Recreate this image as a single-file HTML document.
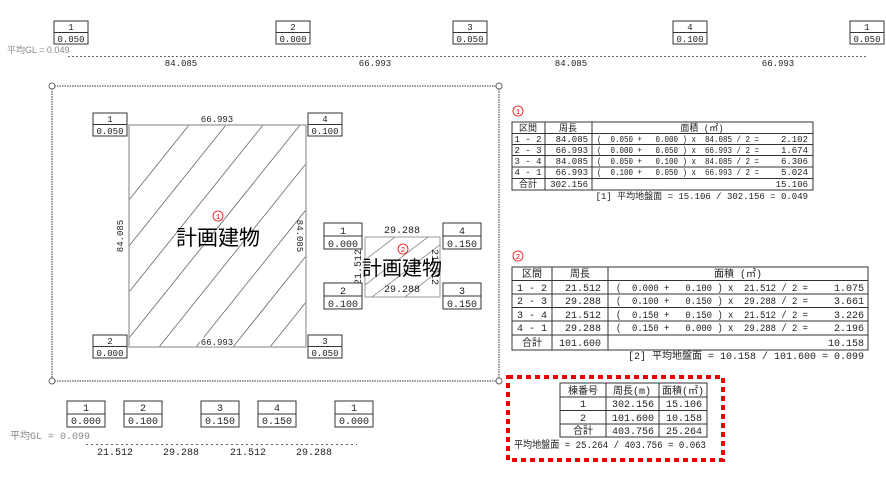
<!DOCTYPE html>
<html><head><meta charset="utf-8"><style>
html,body{margin:0;padding:0;background:#fff;width:886px;height:483px;overflow:hidden}
svg{display:block;font-size:10px;font-family:"Liberation Mono","Noto Sans CJK JP",monospace}
text{fill:#222}
.j{font-family:"Liberation Sans","Noto Sans CJK JP",sans-serif}
text.g{fill:#888}
text.r{fill:#e00}
text.k{fill:#000}
</style></head><body>
<svg width="886" height="483" viewBox="0 0 886 483" xmlns="http://www.w3.org/2000/svg">
<defs>
<clipPath id="c1"><rect x="129" y="125" width="177" height="222"/></clipPath>
<clipPath id="c2"><rect x="365" y="237" width="75" height="60"/></clipPath>
<g id="bx"><rect x="0" y="0" width="34" height="23" fill="#fff" stroke="#333" stroke-width="1"/><line x1="0" y1="11.5" x2="34" y2="11.5" stroke="#333"/></g>
<g id="bxl"><rect x="0" y="0" width="38" height="26" fill="#fff" stroke="#333" stroke-width="1"/><line x1="0" y1="13" x2="38" y2="13" stroke="#333"/></g>
</defs>

<g font-size="9">
<use href="#bx" x="54" y="21"/><text x="71" y="30" text-anchor="middle">1</text><text x="71" y="42" text-anchor="middle">0.050</text>
<use href="#bx" x="276" y="21"/><text x="293" y="30" text-anchor="middle">2</text><text x="293" y="42" text-anchor="middle">0.000</text>
<use href="#bx" x="453" y="21"/><text x="470" y="30" text-anchor="middle">3</text><text x="470" y="42" text-anchor="middle">0.050</text>
<use href="#bx" x="673" y="21"/><text x="690" y="30" text-anchor="middle">4</text><text x="690" y="42" text-anchor="middle">0.100</text>
<use href="#bx" x="850" y="21"/><text x="867" y="30" text-anchor="middle">1</text><text x="867" y="42" text-anchor="middle">0.050</text>
</g>
<text x="7" y="53" class="j g" font-size="9">平均GL = 0.049</text>
<line x1="68" y1="56.5" x2="867" y2="56.5" stroke="#666" stroke-dasharray="2,2"/>
<g font-size="9">
<text x="181" y="66" text-anchor="middle">84.085</text>
<text x="375" y="66" text-anchor="middle">66.993</text>
<text x="571" y="66" text-anchor="middle">84.085</text>
<text x="778" y="66" text-anchor="middle">66.993</text>
</g>

<rect x="52" y="86" width="447" height="295" fill="none" stroke="#333" stroke-dasharray="1.5,1"/>
<circle cx="52" cy="86" r="3" fill="#fff" stroke="#666"/>
<circle cx="499" cy="86" r="3" fill="#fff" stroke="#666"/>
<circle cx="52" cy="381" r="3" fill="#fff" stroke="#666"/>
<circle cx="499" cy="381" r="3" fill="#fff" stroke="#666"/>

<g clip-path="url(#c1)" stroke="#666" stroke-width="0.8">
<path d="M129,200 L189,125 M129,246 L226,125 M129,292 L263,125 M129,338 L300,125 M159,347 L337,125 M196,347 L374,125 M233,347 L411,125 M270,347 L448,125 M307,347 L485,125"/>
</g>
<rect x="129" y="125" width="177" height="222" fill="none" stroke="#aaa" stroke-width="1.5"/>
<text x="217" y="122" text-anchor="middle" font-size="9" style="paint-order:stroke" stroke="#fff" stroke-width="3">66.993</text>
<text x="217" y="345" text-anchor="middle" font-size="9" style="paint-order:stroke" stroke="#fff" stroke-width="3">66.993</text>
<text transform="translate(123,236) rotate(-90)" text-anchor="middle" font-size="9">84.085</text>
<text transform="translate(297,236) rotate(90)" text-anchor="middle" font-size="9">84.085</text>
<circle cx="218" cy="216" r="5" fill="none" stroke="#e00" stroke-width="0.8"/><text x="218" y="219" text-anchor="middle" font-size="7" class="r">1</text>
<text x="218" y="245" text-anchor="middle" class="j k" font-size="21">計画建物</text>
<g font-size="9">
<use href="#bx" x="93" y="113"/><text x="110" y="122" text-anchor="middle">1</text><text x="110" y="134" text-anchor="middle">0.050</text>
<use href="#bx" x="308" y="113"/><text x="325" y="122" text-anchor="middle">4</text><text x="325" y="134" text-anchor="middle">0.100</text>
<use href="#bx" x="93" y="335"/><text x="110" y="344" text-anchor="middle">2</text><text x="110" y="356" text-anchor="middle">0.000</text>
<use href="#bx" x="308" y="335"/><text x="325" y="344" text-anchor="middle">3</text><text x="325" y="356" text-anchor="middle">0.050</text>
</g>

<g clip-path="url(#c2)" stroke="#888" stroke-width="0.8">
<path d="M365,260 L395,237 M365,285 L428,237 M372,297 L450,237 M405,297 L450,262"/>
</g>
<rect x="365" y="237" width="75" height="60" fill="none" stroke="#999"/>
<text x="402" y="233" text-anchor="middle">29.288</text>
<text x="402" y="292" text-anchor="middle">29.288</text>
<text transform="translate(361,267) rotate(-90)" text-anchor="middle">21.512</text>
<text transform="translate(432,267) rotate(90)" text-anchor="middle">21.512</text>
<circle cx="403" cy="249" r="5" fill="none" stroke="#e00" stroke-width="0.8"/><text x="403" y="252" text-anchor="middle" font-size="7" class="r">2</text>
<text x="402" y="275" text-anchor="middle" class="j k" font-size="20">計画建物</text>
<use href="#bxl" x="324" y="223"/><text x="343" y="234" text-anchor="middle">1</text><text x="343" y="247" text-anchor="middle">0.000</text>
<use href="#bxl" x="443" y="223"/><text x="462" y="234" text-anchor="middle">4</text><text x="462" y="247" text-anchor="middle">0.150</text>
<use href="#bxl" x="324" y="283"/><text x="343" y="294" text-anchor="middle">2</text><text x="343" y="307" text-anchor="middle">0.100</text>
<use href="#bxl" x="443" y="283"/><text x="462" y="294" text-anchor="middle">3</text><text x="462" y="307" text-anchor="middle">0.150</text>

<g>
<use href="#bxl" x="67" y="401"/><text x="86" y="411" text-anchor="middle">1</text><text x="86" y="424" text-anchor="middle">0.000</text>
<use href="#bxl" x="124" y="401"/><text x="143" y="411" text-anchor="middle">2</text><text x="143" y="424" text-anchor="middle">0.100</text>
<use href="#bxl" x="201" y="401"/><text x="220" y="411" text-anchor="middle">3</text><text x="220" y="424" text-anchor="middle">0.150</text>
<use href="#bxl" x="258" y="401"/><text x="277" y="411" text-anchor="middle">4</text><text x="277" y="424" text-anchor="middle">0.150</text>
<use href="#bxl" x="335" y="401"/><text x="354" y="411" text-anchor="middle">1</text><text x="354" y="424" text-anchor="middle">0.000</text>
</g>
<text x="10" y="439" class="g" font-size="10">平均GL = 0.099</text>
<line x1="86" y1="444.5" x2="357" y2="444.5" stroke="#666" stroke-dasharray="2,3"/>
<text x="115" y="455" text-anchor="middle">21.512</text>
<text x="181" y="455" text-anchor="middle">29.288</text>
<text x="248" y="455" text-anchor="middle">21.512</text>
<text x="314" y="455" text-anchor="middle">29.288</text>

<!-- table 1 -->
<circle cx="518" cy="111" r="5" fill="none" stroke="#e00" stroke-width="0.8"/><text x="518" y="114" text-anchor="middle" font-size="7" class="r">1</text>
<g stroke="#333" fill="none">
<rect x="512" y="122" width="301" height="68"/>
<path d="M512,133.5H813M512,144.5H813M512,155.5H813M512,167H813M512,178.5H813M545,122V190M592,122V190"/>
</g>
<g font-size="9">
<text x="528" y="131" text-anchor="middle">区間</text><text x="568" y="131" text-anchor="middle">周長</text><text x="702" y="131" text-anchor="middle">面積 (㎡)</text>
<text x="528" y="142" text-anchor="middle">1 - 2</text><text x="588" y="142" text-anchor="end">84.085</text><text x="597" y="142" xml:space="preserve" textLength="162" lengthAdjust="spacingAndGlyphs">(  0.050 +   0.000 ) x  84.085 / 2 =</text><text x="808" y="142" text-anchor="end">2.102</text>
<text x="528" y="153" text-anchor="middle">2 - 3</text><text x="588" y="153" text-anchor="end">66.993</text><text x="597" y="153" xml:space="preserve" textLength="162" lengthAdjust="spacingAndGlyphs">(  0.000 +   0.050 ) x  66.993 / 2 =</text><text x="808" y="153" text-anchor="end">1.674</text>
<text x="528" y="164" text-anchor="middle">3 - 4</text><text x="588" y="164" text-anchor="end">84.085</text><text x="597" y="164" xml:space="preserve" textLength="162" lengthAdjust="spacingAndGlyphs">(  0.050 +   0.100 ) x  84.085 / 2 =</text><text x="808" y="164" text-anchor="end">6.306</text>
<text x="528" y="175" text-anchor="middle">4 - 1</text><text x="588" y="175" text-anchor="end">66.993</text><text x="597" y="175" xml:space="preserve" textLength="162" lengthAdjust="spacingAndGlyphs">(  0.100 +   0.050 ) x  66.993 / 2 =</text><text x="808" y="175" text-anchor="end">5.024</text>
<text x="528" y="187" text-anchor="middle">合計</text><text x="588" y="187" text-anchor="end">302.156</text><text x="808" y="187" text-anchor="end">15.106</text>
<text x="808" y="199" text-anchor="end">[1] 平均地盤面 = 15.106 / 302.156 = 0.049</text>
</g>

<!-- table 2 -->
<circle cx="518" cy="256" r="5" fill="none" stroke="#e00" stroke-width="0.8"/><text x="518" y="259" text-anchor="middle" font-size="7" class="r">2</text>
<g stroke="#333" fill="none">
<rect x="512" y="267" width="356" height="83"/>
<path d="M512,280.5H868M512,294H868M512,307.5H868M512,321H868M512,335H868M552,267V350M608,267V350"/>
</g>
<g font-size="10">
<text x="532" y="277" text-anchor="middle">区間</text><text x="580" y="277" text-anchor="middle">周長</text><text x="738" y="277" text-anchor="middle">面積 (㎡)</text>
<text x="532" y="291" text-anchor="middle">1 - 2</text><text x="601" y="291" text-anchor="end">21.512</text><text x="616" y="291" xml:space="preserve" textLength="192" lengthAdjust="spacingAndGlyphs">(  0.000 +   0.100 ) x  21.512 / 2 =</text><text x="864" y="291" text-anchor="end">1.075</text>
<text x="532" y="304" text-anchor="middle">2 - 3</text><text x="601" y="304" text-anchor="end">29.288</text><text x="616" y="304" xml:space="preserve" textLength="192" lengthAdjust="spacingAndGlyphs">(  0.100 +   0.150 ) x  29.288 / 2 =</text><text x="864" y="304" text-anchor="end">3.661</text>
<text x="532" y="318" text-anchor="middle">3 - 4</text><text x="601" y="318" text-anchor="end">21.512</text><text x="616" y="318" xml:space="preserve" textLength="192" lengthAdjust="spacingAndGlyphs">(  0.150 +   0.150 ) x  21.512 / 2 =</text><text x="864" y="318" text-anchor="end">3.226</text>
<text x="532" y="331" text-anchor="middle">4 - 1</text><text x="601" y="331" text-anchor="end">29.288</text><text x="616" y="331" xml:space="preserve" textLength="192" lengthAdjust="spacingAndGlyphs">(  0.150 +   0.000 ) x  29.288 / 2 =</text><text x="864" y="331" text-anchor="end">2.196</text>
<text x="532" y="346" text-anchor="middle">合計</text><text x="601" y="346" text-anchor="end">101.600</text><text x="864" y="346" text-anchor="end">10.158</text>
<text x="864" y="359" text-anchor="end">[2] 平均地盤面 = 10.158 / 101.600 = 0.099</text>
</g>

<!-- summary -->
<rect x="508" y="377" width="215" height="83" fill="none" stroke="#e00" stroke-width="4" stroke-dasharray="5,4"/>
<g stroke="#333" fill="none">
<rect x="560" y="383" width="147" height="54"/>
<path d="M560,397H707M560,410.5H707M560,424H707M606,383V437M659,383V437"/>
</g>
<g font-size="10">
<text x="583" y="394" text-anchor="middle">棟番号</text><text x="632" y="394" text-anchor="middle">周長(m)</text><text x="683" y="394" text-anchor="middle">面積(㎡)</text>
<text x="583" y="407" text-anchor="middle">1</text><text x="654" y="407" text-anchor="end">302.156</text><text x="702" y="407" text-anchor="end">15.106</text>
<text x="583" y="421" text-anchor="middle">2</text><text x="654" y="421" text-anchor="end">101.600</text><text x="702" y="421" text-anchor="end">10.158</text>
<text x="583" y="434" text-anchor="middle">合計</text><text x="654" y="434" text-anchor="end">403.756</text><text x="702" y="434" text-anchor="end">25.264</text>
<text x="514" y="448" textLength="192" lengthAdjust="spacingAndGlyphs">平均地盤面 = 25.264 / 403.756 = 0.063</text>
</g>
</svg>
</body></html>
